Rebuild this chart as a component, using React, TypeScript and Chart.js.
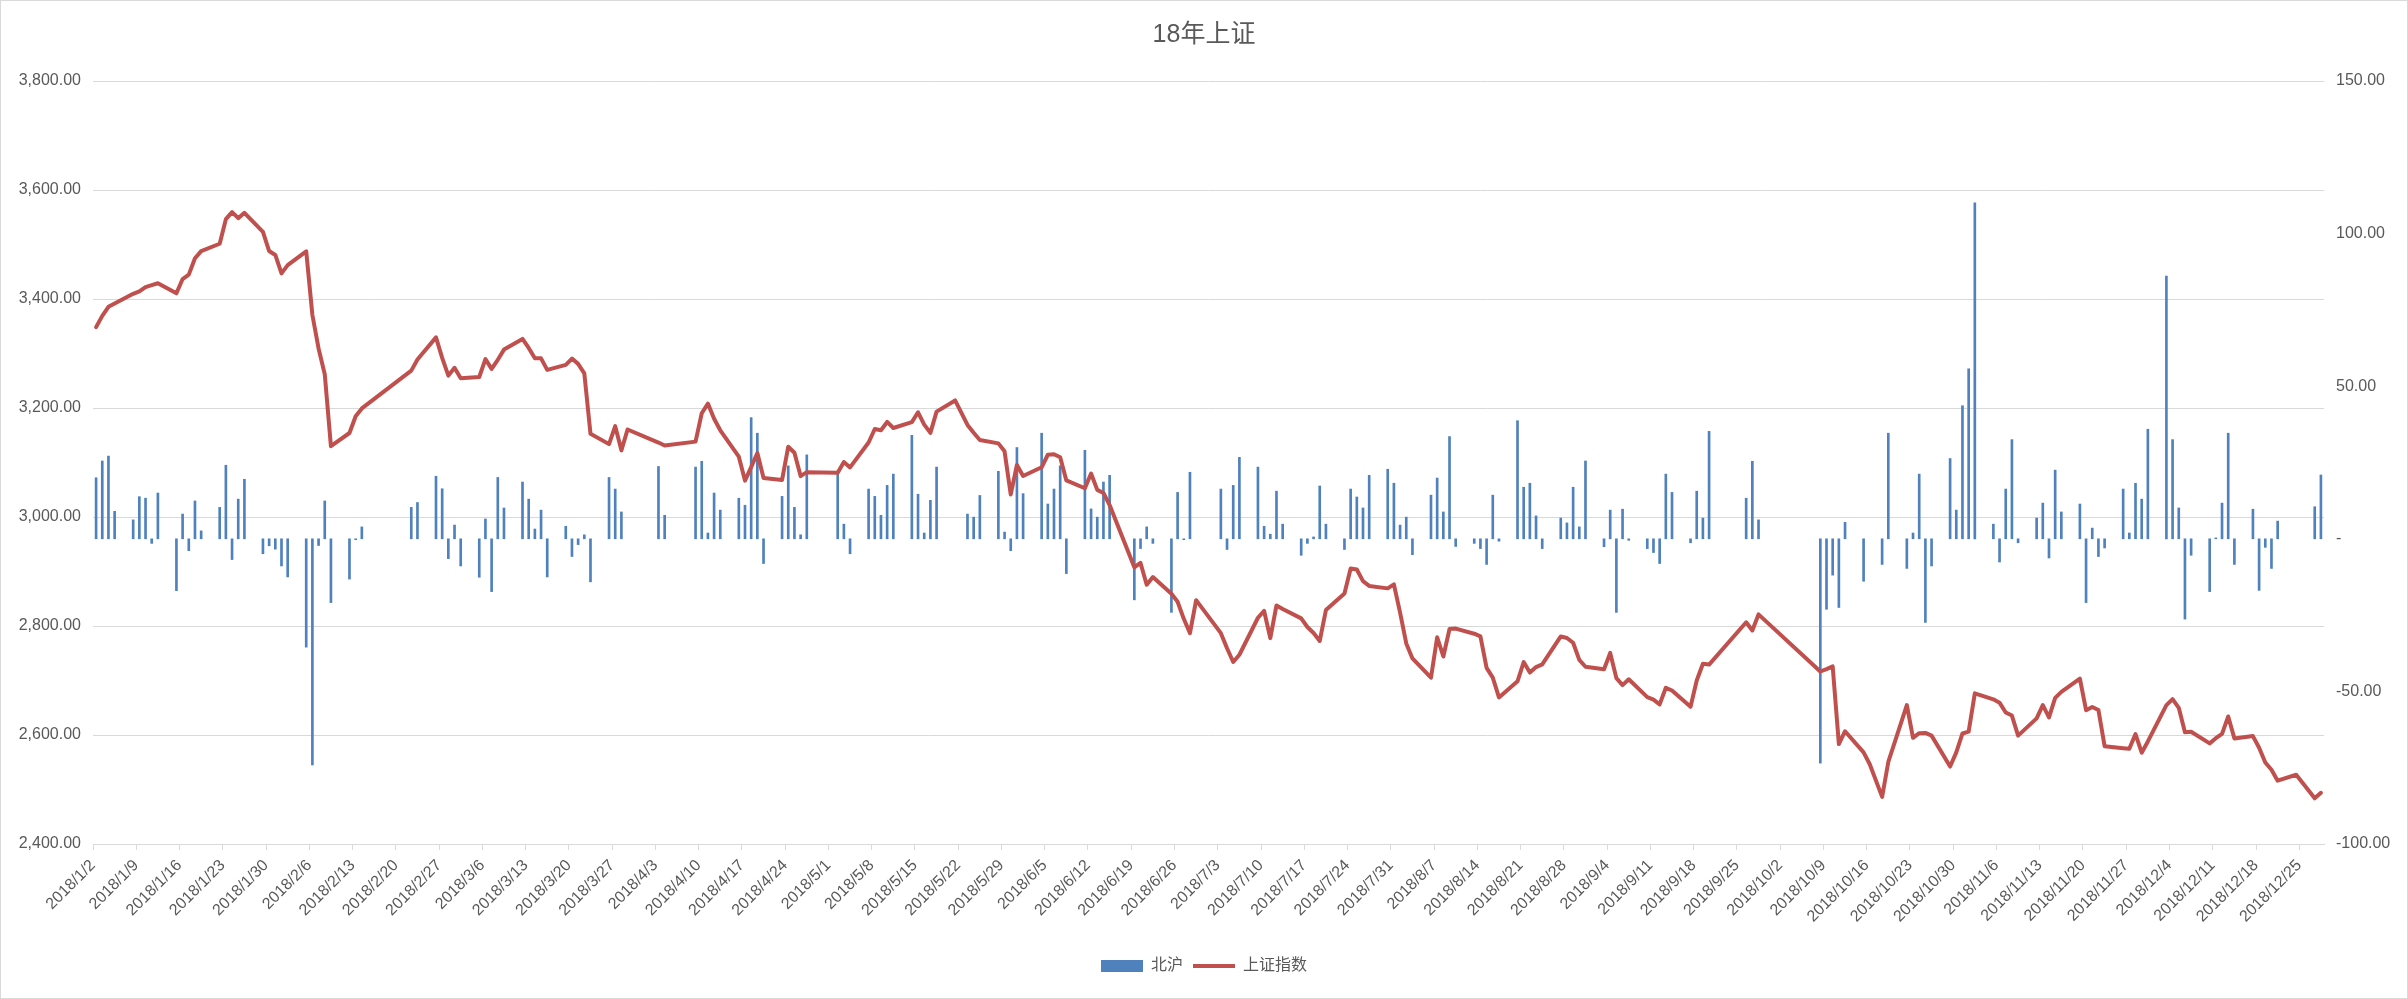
import React, { useEffect, useRef } from 'react';
import { Chart, registerables } from 'chart.js';

Chart.register(...registerables);

// Trading days shown in the chart (Shanghai-Connect northbound days)
const tradeDates: string[] = [
  '2018/1/2','2018/1/3','2018/1/4','2018/1/5','2018/1/8','2018/1/9','2018/1/10','2018/1/11','2018/1/12','2018/1/15','2018/1/16','2018/1/17','2018/1/18','2018/1/19','2018/1/22','2018/1/23','2018/1/24','2018/1/25','2018/1/26','2018/1/29','2018/1/30','2018/1/31',
  '2018/2/1','2018/2/2','2018/2/5','2018/2/6','2018/2/7','2018/2/8','2018/2/9','2018/2/12','2018/2/13','2018/2/14','2018/2/22','2018/2/23','2018/2/26','2018/2/27','2018/2/28',
  '2018/3/1','2018/3/2','2018/3/5','2018/3/6','2018/3/7','2018/3/8','2018/3/9','2018/3/12','2018/3/13','2018/3/14','2018/3/15','2018/3/16','2018/3/19','2018/3/20','2018/3/21','2018/3/22','2018/3/23','2018/3/26','2018/3/27','2018/3/28','2018/3/29',
  '2018/4/3','2018/4/4','2018/4/9','2018/4/10','2018/4/11','2018/4/12','2018/4/13','2018/4/16','2018/4/17','2018/4/18','2018/4/19','2018/4/20','2018/4/23','2018/4/24','2018/4/25','2018/4/26','2018/4/27',
  '2018/5/2','2018/5/3','2018/5/4','2018/5/7','2018/5/8','2018/5/9','2018/5/10','2018/5/11','2018/5/14','2018/5/15','2018/5/16','2018/5/17','2018/5/18','2018/5/21','2018/5/23','2018/5/24','2018/5/25','2018/5/28','2018/5/29','2018/5/30','2018/5/31',
  '2018/6/1','2018/6/4','2018/6/5','2018/6/6','2018/6/7','2018/6/8','2018/6/11','2018/6/12','2018/6/13','2018/6/14','2018/6/15','2018/6/19','2018/6/20','2018/6/21','2018/6/22','2018/6/25','2018/6/26','2018/6/27','2018/6/28','2018/6/29',
  '2018/7/3','2018/7/4','2018/7/5','2018/7/6','2018/7/9','2018/7/10','2018/7/11','2018/7/12','2018/7/13','2018/7/16','2018/7/17','2018/7/18','2018/7/19','2018/7/20','2018/7/23','2018/7/24','2018/7/25','2018/7/26','2018/7/27','2018/7/30','2018/7/31',
  '2018/8/1','2018/8/2','2018/8/3','2018/8/6','2018/8/7','2018/8/8','2018/8/9','2018/8/10','2018/8/13','2018/8/14','2018/8/15','2018/8/16','2018/8/17','2018/8/20','2018/8/21','2018/8/22','2018/8/23','2018/8/24','2018/8/27','2018/8/28','2018/8/29','2018/8/30','2018/8/31',
  '2018/9/3','2018/9/4','2018/9/5','2018/9/6','2018/9/7','2018/9/10','2018/9/11','2018/9/12','2018/9/13','2018/9/14','2018/9/17','2018/9/18','2018/9/19','2018/9/20','2018/9/26','2018/9/27','2018/9/28',
  '2018/10/8','2018/10/9','2018/10/10','2018/10/11','2018/10/12','2018/10/15','2018/10/16','2018/10/18','2018/10/19','2018/10/22','2018/10/23','2018/10/24','2018/10/25','2018/10/26','2018/10/29','2018/10/30','2018/10/31',
  '2018/11/1','2018/11/2','2018/11/5','2018/11/6','2018/11/7','2018/11/8','2018/11/9','2018/11/12','2018/11/13','2018/11/14','2018/11/15','2018/11/16','2018/11/19','2018/11/20','2018/11/21','2018/11/22','2018/11/23','2018/11/26','2018/11/27','2018/11/28','2018/11/29','2018/11/30',
  '2018/12/3','2018/12/4','2018/12/5','2018/12/6','2018/12/7','2018/12/10','2018/12/11','2018/12/12','2018/12/13','2018/12/14','2018/12/17','2018/12/18','2018/12/19','2018/12/20','2018/12/21','2018/12/24','2018/12/27','2018/12/28',
];

// 北沪 (right axis)
const northbound: (number | null)[] = [
  20.0,25.5,27.1,9.0,6.2,13.8,13.3,-1.5,15.0,-17.0,8.1,-3.9,12.4,2.6,10.3,24.1,-6.8,13.0,19.5,-4.9,-2.3,-3.4,
  -8.9,-12.5,-35.5,-74.1,-2.2,12.4,-20.9,-13.2,-0.3,3.9,10.3,11.9,20.5,16.4,-6.5,
  4.5,-8.9,-12.6,6.5,-17.3,20.1,10.1,18.6,13.0,3.2,9.4,-12.5,4.1,-5.8,-1.9,1.3,-14.1,20.1,16.3,8.8,null,
  23.7,7.7,23.5,25.4,1.9,15.0,9.4,13.3,11.0,39.7,34.6,-8.1,13.9,23.9,10.3,1.3,27.5,
  21.7,4.8,-4.9,16.3,13.9,7.7,17.5,21.2,33.9,14.6,1.9,12.6,23.5,null,8.1,7.1,14.2,22.1,2.2,-3.9,29.9,
  14.8,34.6,11.4,16.3,23.9,-11.4,29.0,9.8,7.1,18.6,20.8,-20.0,-3.2,3.9,-1.5,-24.1,15.2,-0.3,21.8,null,
  16.3,-3.5,17.5,26.7,23.5,4.1,1.5,15.6,4.8,-5.4,-1.5,0.6,17.3,4.8,-3.5,16.3,13.7,10.1,20.8,22.8,18.2,
  4.5,7.1,-5.2,14.3,19.9,8.8,33.5,-2.5,-1.5,-3.2,-8.4,14.3,-0.8,38.7,16.9,18.2,7.5,-3.2,6.8,5.2,16.9,3.9,25.5,
  -2.6,9.4,-24.1,9.7,-0.5,-3.2,-4.5,-8.1,21.2,15.2,-1.3,15.6,6.8,35.2,13.3,25.4,6.2,
  -73.5,-23.1,-11.9,-22.5,5.4,-13.9,null,-8.4,34.6,-9.7,1.9,21.2,-27.4,-8.9,26.3,9.4,43.6,
  55.7,110.1,4.8,-7.6,16.3,32.5,-1.3,6.8,11.7,-6.3,22.5,8.8,11.4,-20.9,3.5,-5.8,-3.0,16.3,1.9,18.2,13.0,35.9,
  86.1,32.5,10.1,-26.3,-5.4,-17.3,0.3,11.7,34.6,-8.4,9.7,-16.9,-2.8,-9.7,5.8,null,10.5,20.9,
];

// 上证指数 (left axis)
const shIndex: number[] = [
  3348.33,3369.11,3385.71,3391.75,3409.48,3413.90,3421.83,3425.35,3428.94,3410.49,3436.59,3444.67,3474.75,3487.86,3501.36,3546.50,3559.47,3548.31,3558.13,3523.00,3488.01,3480.83,
  3446.98,3462.08,3487.50,3370.65,3309.26,3262.05,3129.85,3154.13,3184.96,3199.16,3268.56,3289.02,3329.57,3292.07,3259.41,
  3273.76,3254.53,3256.93,3289.64,3271.67,3288.41,3307.17,3326.70,3310.24,3291.38,3291.11,3269.88,3279.25,3290.64,3280.95,3263.48,3152.76,3133.72,3166.65,3122.29,3160.53,
  3136.63,3131.11,3138.29,3190.32,3208.08,3180.16,3159.05,3110.65,3066.80,3091.40,3117.38,3071.54,3068.01,3128.93,3117.97,3075.03,3082.23,
  3081.18,3100.86,3091.03,3136.64,3161.50,3159.15,3174.41,3163.26,3174.03,3192.12,3169.57,3154.28,3193.30,3213.84,3168.96,3154.65,3141.30,3135.08,3120.46,3041.44,3095.47,
  3075.14,3091.19,3114.21,3115.18,3109.50,3067.15,3052.78,3079.80,3049.80,3044.16,3021.90,2907.82,2915.73,2875.81,2889.76,2859.34,2844.51,2813.18,2786.90,2847.42,
  2786.89,2759.13,2733.88,2747.23,2815.11,2827.63,2777.77,2837.66,2831.18,2814.04,2798.13,2787.26,2772.55,2829.27,2859.54,2905.56,2903.65,2882.23,2873.59,2869.05,2876.40,
  2824.53,2768.02,2740.44,2705.16,2779.37,2744.07,2794.38,2795.31,2785.87,2780.96,2723.26,2705.19,2668.97,2698.47,2733.79,2714.61,2724.62,2729.43,2780.90,2777.98,2769.30,2737.74,2725.25,
  2720.73,2750.58,2704.34,2691.59,2702.30,2669.48,2664.80,2656.11,2686.58,2681.64,2651.79,2699.95,2730.85,2729.24,2806.81,2791.77,2821.35,
  2716.51,2721.01,2725.84,2583.46,2606.91,2568.10,2546.33,2486.42,2550.47,2654.88,2594.83,2603.30,2603.80,2598.85,2542.10,2568.05,2602.78,
  2606.24,2676.48,2665.43,2659.36,2641.34,2635.63,2598.87,2630.52,2654.88,2632.24,2668.17,2679.11,2703.51,2645.43,2651.51,2645.85,2579.48,2575.81,2574.68,2601.74,2567.44,2588.19,
  2654.80,2665.96,2649.81,2605.18,2605.89,2584.58,2594.09,2602.15,2634.05,2593.74,2597.97,2576.65,2549.56,2536.27,2516.25,2527.01,2483.86,2493.90,
];

// Weekly date-axis labels
const xTickLabels: string[] = [
  '2018/1/2','2018/1/9','2018/1/16','2018/1/23','2018/1/30','2018/2/6','2018/2/13','2018/2/20','2018/2/27','2018/3/6','2018/3/13','2018/3/20','2018/3/27',
  '2018/4/3','2018/4/10','2018/4/17','2018/4/24','2018/5/1','2018/5/8','2018/5/15','2018/5/22','2018/5/29','2018/6/5','2018/6/12','2018/6/19','2018/6/26',
  '2018/7/3','2018/7/10','2018/7/17','2018/7/24','2018/7/31','2018/8/7','2018/8/14','2018/8/21','2018/8/28','2018/9/4','2018/9/11','2018/9/18','2018/9/25',
  '2018/10/2','2018/10/9','2018/10/16','2018/10/23','2018/10/30','2018/11/6','2018/11/13','2018/11/20','2018/11/27','2018/12/4','2018/12/11','2018/12/18','2018/12/25',
];

const leftTicks = { min: 2400, max: 3800, step: 200 };
const rightTicks = { min: -100, max: 150, step: 50 };
const axisStart = '2018/1/2';
const axisEnd = '2018/12/28';

const FONT = "'Liberation Sans', 'Noto Sans CJK SC', sans-serif";
const TEXT = '#595959';
const GRID = '#d9d9d9';

const dayIndex = (s: string): number => {
  const [y, m, d] = s.split('/').map(Number);
  const [y0, m0, d0] = axisStart.split('/').map(Number);
  return Math.round((Date.UTC(y, m - 1, d) - Date.UTC(y0, m0 - 1, d0)) / 86400000);
};

export default function App() {
  const ref = useRef<HTMLCanvasElement | null>(null);

  useEffect(() => {
    if (!ref.current) return;
    const barData = tradeDates
      .map((d, i) => ({ x: dayIndex(d), y: northbound[i] }))
      .filter((p) => p.y !== null) as { x: number; y: number }[];
    const lineData = tradeDates.map((d, i) => ({ x: dayIndex(d), y: shIndex[i] }));
    const tickPos = xTickLabels.map((l) => dayIndex(l) - 0.5);
    const labelAt = new Map<number, string>(tickPos.map((p, i) => [p, xTickLabels[i]]));

    const chart = new Chart(ref.current, {
      type: 'bar',
      data: {
        datasets: [
          {
            type: 'bar',
            label: '北沪',
            data: barData as any,
            backgroundColor: '#4F81BD',
            borderWidth: 0,
            barThickness: 2,
            yAxisID: 'y1',
            pointStyle: 'rect',
            order: 2,
          } as any,
          {
            type: 'line',
            label: '上证指数',
            data: lineData as any,
            borderColor: '#C0504D',
            backgroundColor: '#C0504D',
            borderWidth: 4,
            pointRadius: 0,
            pointHoverRadius: 0,
            pointStyle: 'line',
            tension: 0,
            borderJoinStyle: 'round',
            borderCapStyle: 'round',
            yAxisID: 'y',
            order: 1,
          } as any,
        ],
      },
      options: {
        responsive: false,
        animation: false,
        devicePixelRatio: 1,
        layout: { padding: { left: 0, right: 0, top: 0, bottom: 14 } },
        plugins: {
          title: {
            display: true,
            text: '18年上证',
            color: TEXT,
            font: { family: FONT, size: 25, weight: 'normal' },
            padding: { top: 19, bottom: 31 },
          },
          legend: {
            position: 'bottom',
            labels: {
              usePointStyle: true,
              pointStyleWidth: 42,
              boxHeight: 12,
              color: TEXT,
              font: { family: FONT, size: 16 },
              padding: 10,
              sort: (a: any, b: any) => a.datasetIndex - b.datasetIndex,
            },
          },
          tooltip: { enabled: false },
        },
        scales: {
          x: {
            type: 'linear',
            offset: false,
            min: dayIndex(axisStart) - 0.5,
            max: dayIndex(axisEnd) + 0.5,
            afterBuildTicks: (axis: any) => {
              axis.ticks = tickPos.map((v) => ({ value: v }));
            },
            afterFit: (axis: any) => {
              axis.height = 104;
            },
            ticks: {
              autoSkip: false,
              minRotation: 45,
              maxRotation: 45,
              padding: 6,
              color: TEXT,
              font: { family: FONT, size: 16 },
              callback: (v: any) => labelAt.get(Number(v)) ?? '',
            },
            grid: { drawOnChartArea: false, tickLength: 6, color: GRID, offset: false },
            border: { color: GRID },
          },
          y: {
            position: 'left',
            min: leftTicks.min,
            max: leftTicks.max,
            afterFit: (axis: any) => {
              axis.width = 92;
            },
            ticks: {
              stepSize: leftTicks.step,
              padding: 12,
              color: TEXT,
              font: { family: FONT, size: 16 },
              callback: (v: any) =>
                Number(v).toLocaleString('en-US', { minimumFractionDigits: 2, maximumFractionDigits: 2 }),
            },
            grid: { color: GRID, drawTicks: false },
            border: { display: false },
          },
          y1: {
            position: 'right',
            min: rightTicks.min,
            max: rightTicks.max,
            afterFit: (axis: any) => {
              axis.width = 83;
            },
            ticks: {
              stepSize: rightTicks.step,
              padding: 12,
              color: TEXT,
              font: { family: FONT, size: 16 },
              callback: (v: any) => (Number(v) === 0 ? '-' : Number(v).toFixed(2)),
            },
            grid: { display: false, drawTicks: false },
            border: { display: false },
          },
        },
      } as any,
    });
    return () => chart.destroy();
  }, []);

  return (
    <div
      style={{
        position: 'fixed',
        left: 0,
        top: 0,
        width: 2408,
        height: 999,
        background: '#ffffff',
        boxSizing: 'border-box',
        border: '1px solid #d9d9d9',
      }}
    >
      <canvas
        ref={ref}
        width={2406}
        height={997}
        style={{ display: 'block', width: 2406, height: 997 }}
      />
    </div>
  );
}
